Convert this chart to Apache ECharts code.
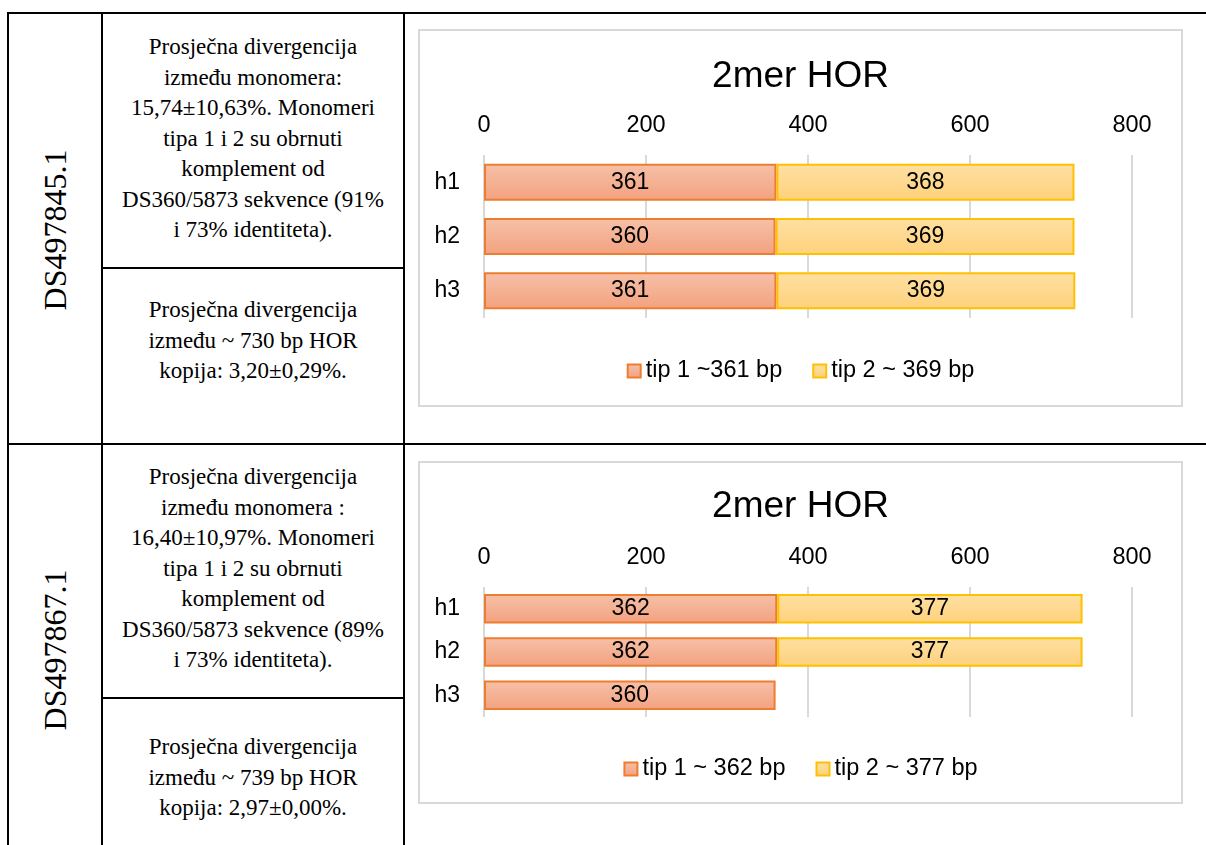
<!DOCTYPE html>
<html>
<head>
<meta charset="utf-8">
<script src="https://cdn.jsdelivr.net/npm/echarts@6/dist/echarts.min.js"></script>
<style>
  html, body { margin: 0; padding: 0; background: #fff; }
  body { width: 1206px; height: 845px; position: relative; overflow: hidden; }
  .ln { position: absolute; background: #000; }
  .txt {
    position: absolute; left: 102px; width: 302px; text-align: center;
    font-family: "Liberation Serif", "Times New Roman", serif; font-size: 23px;
    line-height: 30.5px; white-space: nowrap; color: #000;
  }
  .rot {
    position: absolute; font-family: "Liberation Serif", serif; font-size: 32px;
    white-space: nowrap; transform: translate(-50%, -50%) rotate(-90deg); color: #000;
  }
  .box { position: absolute; left: 418px; width: 765px; border: 2px solid #d9d9d9; box-sizing: border-box; }
</style>
</head>
<body>
  <!-- okvir tablice -->
  <div class="ln" style="left:7px; top:12px; width:1199px; height:2px"></div>
  <div class="ln" style="left:7px; top:12px; width:2px; height:833px"></div>
  <div class="ln" style="left:101px; top:12px; width:2px; height:833px"></div>
  <div class="ln" style="left:403px; top:12px; width:2px; height:833px"></div>
  <div class="ln" style="left:101px; top:267px; width:303px; height:2px"></div>
  <div class="ln" style="left:7px; top:443px; width:1199px; height:2px"></div>
  <div class="ln" style="left:101px; top:697px; width:303px; height:2px"></div>

  <div class="rot" style="left:55px; top:230px">DS497845.1</div>
  <div class="rot" style="left:55px; top:650px">DS497867.1</div>

  <div class="txt" style="top:32px">Prosječna divergencija<br>između monomera:<br>15,74±10,63%. Monomeri<br>tipa 1 i 2 su obrnuti<br>komplement od<br>DS360/5873 sekvence (91%<br>i 73% identiteta).</div>
  <div class="txt" style="top:295px">Prosječna divergencija<br>između ~ 730 bp HOR<br>kopija: 3,20±0,29%.</div>
  <div class="txt" style="top:462px">Prosječna divergencija<br>između monomera :<br>16,40±10,97%. Monomeri<br>tipa 1 i 2 su obrnuti<br>komplement od<br>DS360/5873 sekvence (89%<br>i 73% identiteta).</div>
  <div class="txt" style="top:732px">Prosječna divergencija<br>između ~ 739 bp HOR<br>kopija: 2,97±0,00%.</div>

  <div id="chart1" class="box" style="top:29px; height:378px"></div>
  <div id="chart2" class="box" style="top:461px; height:343px"></div>

<script>
// podaci
const haplotypes = ['h1', 'h2', 'h3']
const xTicks = [0, 200, 400, 600, 800]

const tip1A = [361, 360, 361]
const tip2A = [368, 369, 369]
const legendA = ['tip 1 ~361 bp', 'tip 2 ~ 369 bp']

const tip1B = [362, 362, 360]
const tip2B = [377, 377, null]
const legendB = ['tip 1 ~ 362 bp', 'tip 2 ~ 377 bp']

const FONT = '"Liberation Sans", Arial, sans-serif'

function grad(top, bottom) {
  return { type: 'linear', x: 0, y: 0, x2: 0, y2: 1, colorStops: [{ offset: 0, color: top }, { offset: 1, color: bottom }] }
}

function barSeries(name, data, fill, border) {
  return {
    name, type: 'bar', stack: 'hor', data,
    barCategoryGap: '32%',
    itemStyle: { color: fill, borderColor: border, borderWidth: 2 },
    label: { show: true, position: 'inside', color: '#000', fontFamily: FONT, fontSize: 23 },
    emphasis: { disabled: true }
  }
}

function makeOption(tip1, tip2, names, gridHeight, titleTop, legendTop) {
  return {
    animation: false,
    title: {
      text: '2mer HOR', left: 'center', top: titleTop,
      textStyle: { fontFamily: FONT, fontSize: 37, fontWeight: 'normal', color: '#000' }
    },
    legend: {
      data: names, top: legendTop, left: 'center',
      icon: 'rect', itemWidth: 13, itemHeight: 13, itemGap: 30,
      textStyle: { fontFamily: FONT, fontSize: 23.5, color: '#000' }
    },
    grid: { left: 64, right: 49, top: 124, height: gridHeight, containLabel: false },
    xAxis: {
      type: 'value', position: 'top', min: xTicks[0], max: xTicks[xTicks.length - 1], interval: 200,
      axisLine: { show: false }, axisTick: { show: false },
      axisLabel: { margin: 17, fontFamily: FONT, fontSize: 23.5, color: '#000' },
      splitLine: { lineStyle: { color: '#d9d9d9', width: 2 } }
    },
    yAxis: {
      type: 'category', data: haplotypes, inverse: true,
      axisLine: { show: false }, axisTick: { show: false },
      axisLabel: { margin: 24, fontFamily: FONT, fontSize: 23, color: '#000' }
    },
    series: [
      barSeries(names[0], tip1, grad('#f6c1a9', '#f3a17e'), '#ed7d31'),
      barSeries(names[1], tip2, grad('#fee0a3', '#fed17b'), '#ffc000')
    ]
  }
}

const c1 = echarts.init(document.getElementById('chart1'))
c1.setOption(makeOption(tip1A, tip2A, legendA, 163, 22, 323))
const c2 = echarts.init(document.getElementById('chart2'))
c2.setOption(makeOption(tip1B, tip2B, legendB, 130, 20, 289))
</script>
</body>
</html>
